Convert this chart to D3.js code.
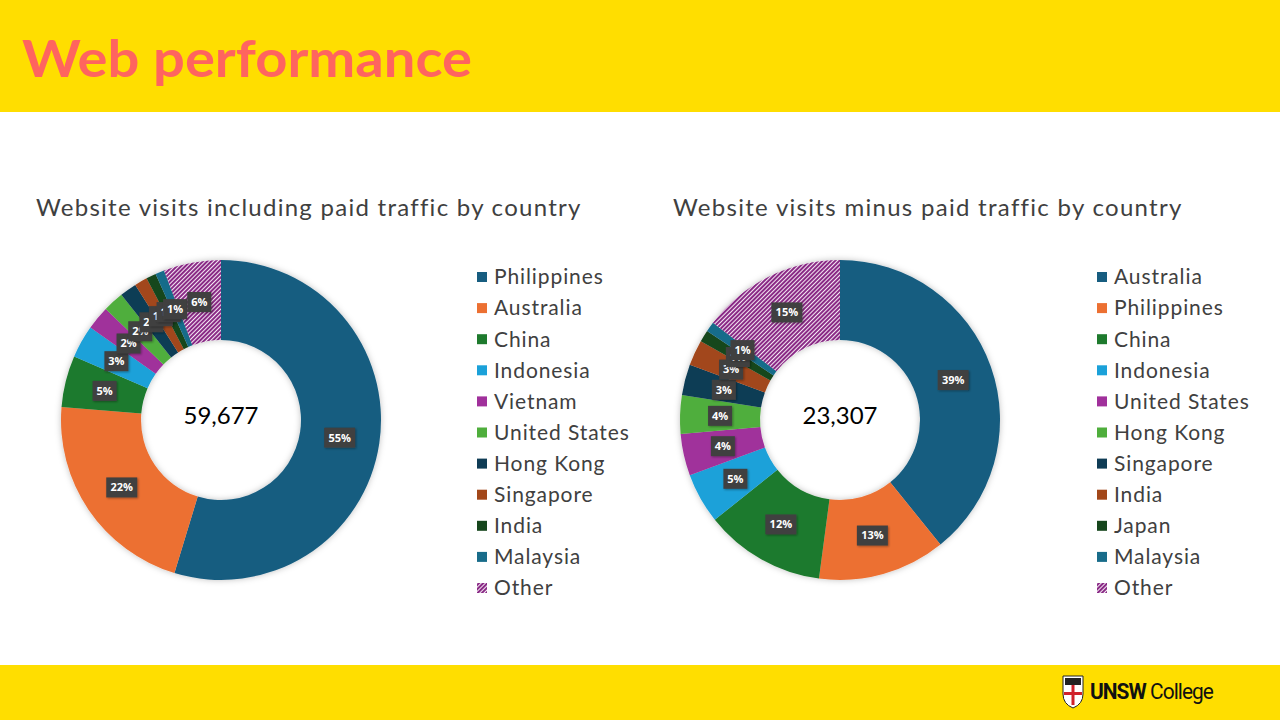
<!DOCTYPE html>
<html>
<head>
<meta charset="utf-8">
<script src="https://cdn.jsdelivr.net/npm/d3@7"></script>
<style>
  body { margin: 0; background: #fff; }
  svg { display: block; font-family: "Lato", "Open Sans", sans-serif; }
</style>
</head>
<body>
<div id="viz"></div>
<script>
// chart data (percent share of visits)
const paidCountries = ["Philippines", "Australia", "China", "Indonesia", "Vietnam", "United States",
    "Hong Kong", "Singapore", "India", "Malaysia", "Other"];
const paidShares = [54.7, 21.6, 5.2, 3.3, 2.4, 2.1, 1.7, 1.3, 1.0, 0.9, 5.8];
const paidTotal = 59677;

const organicCountries = ["Australia", "Philippines", "China", "Indonesia", "United States", "Hong Kong",
    "Singapore", "India", "Japan", "Malaysia", "Other"];
const organicShares = [39.2, 12.9, 12.2, 5.1, 4.2, 3.9, 3.1, 2.6, 1.2, 1.0, 14.6];
const organicTotal = 23307;

const palette = ["#175d80", "#ec7032", "#1e7a2d", "#1ba1d9", "#a0309b", "#4fae3c",
    "#0f3c55", "#a2471a", "#16461d", "#186c8a", "url(#hatch)"];

const W = 1280, H = 720;

const svg = d3.select("#viz").append("svg")
    .attr("width", W)
    .attr("height", H);

const defs = svg.append("defs");

// fine purple/white diagonal hatch for "Other"
const pat = defs.append("pattern")
    .attr("id", "hatch")
    .attr("patternUnits", "userSpaceOnUse")
    .attr("width", 3)
    .attr("height", 3)
    .attr("patternTransform", "rotate(45)");
pat.append("rect").attr("width", 3).attr("height", 3).attr("fill", "#f4e8f3");
pat.append("rect").attr("width", 2).attr("height", 3).attr("fill", "#8a2b86");

const shadow = defs.append("filter").attr("id", "shadow")
    .attr("x", "-20%").attr("y", "-20%").attr("width", "140%").attr("height", "140%");
shadow.append("feDropShadow")
    .attr("dx", 0).attr("dy", 0).attr("stdDeviation", 3)
    .attr("flood-color", "#000").attr("flood-opacity", 0.25);

const lblShadow = defs.append("filter").attr("id", "lblshadow")
    .attr("x", "-30%").attr("y", "-30%").attr("width", "160%").attr("height", "160%");
lblShadow.append("feDropShadow")
    .attr("dx", 1).attr("dy", 1).attr("stdDeviation", 1)
    .attr("flood-color", "#000").attr("flood-opacity", 0.35);

// header and footer bands
svg.append("rect").attr("x", 0).attr("y", 0).attr("width", W).attr("height", 112).attr("fill", "#ffde00");
svg.append("rect").attr("x", 0).attr("y", 665).attr("width", W).attr("height", 55).attr("fill", "#ffde00");

svg.append("text")
    .attr("x", 22)
    .attr("y", 77)
    .attr("fill", "#ff645f")
    .style("font-size", "52px")
    .style("font-weight", "700")
    .attr("textLength", 450)
    .attr("lengthAdjust", "spacingAndGlyphs")
    .text("Web performance");

function drawDonut(opts) {
    const g = svg.append("g");

    g.append("text")
        .attr("x", opts.titleX)
        .attr("y", 216)
        .attr("fill", "#404040")
        .style("font-size", "24px")
        .style("letter-spacing", "0.6px")
        .attr("textLength", opts.titleW)
        .attr("lengthAdjust", "spacing")
        .text(opts.title);

    const pie = d3.pie().sort(null).value(d => d.value);
    const arcs = pie(opts.countries.map((c, i) => ({ name: c, value: opts.shares[i], i })));
    const outerR = 160, innerR = 80;
    const arc = d3.arc().innerRadius(innerR).outerRadius(outerR);
    const labelArc = d3.arc().innerRadius(120).outerRadius(120);

    const chart = g.append("g").attr("transform", `translate(${opts.cx},${opts.cy})`);

    chart.append("g")
        .attr("filter", "url(#shadow)")
        .selectAll("path")
        .data(arcs)
        .enter()
        .append("path")
        .attr("d", arc)
        .attr("fill", d => palette[d.data.i]);

    // data labels: dark boxes, overlapping on the thin slices as in the slide
    const labels = chart.append("g")
        .selectAll("g")
        .data(arcs)
        .enter()
        .append("g")
        .attr("transform", d => `translate(${labelArc.centroid(d)})`);

    labels.each(function(d) {
        const txt = Math.round(d.data.value) + "%";
        const w = txt.length === 3 ? 31 : 24;
        const sel = d3.select(this);
        sel.append("rect")
            .attr("x", -w / 2)
            .attr("y", -10)
            .attr("width", w)
            .attr("height", 20)
            .attr("fill", "#404040")
            .attr("filter", "url(#lblshadow)");
        sel.append("text")
            .attr("text-anchor", "middle")
            .attr("dy", "0.35em")
            .attr("fill", "#fff")
            .style("font-size", "11px")
            .style("font-weight", "700")
            .style("font-family", "'Open Sans', sans-serif")
            .text(txt);
    });

    chart.append("text")
        .attr("text-anchor", "middle")
        .attr("y", -4)
        .attr("dy", "0.35em")
        .attr("fill", "#000")
        .style("font-size", "24px")
        .text(d3.format(",")(opts.total));

    // legend
    const y = d3.scalePoint()
        .domain(opts.countries)
        .range([277, 588]);

    const leg = g.append("g")
        .selectAll("g")
        .data(opts.countries)
        .enter()
        .append("g")
        .attr("transform", d => `translate(${opts.legendX},${y(d)})`);

    leg.append("rect")
        .attr("x", 0)
        .attr("y", -5)
        .attr("width", 10)
        .attr("height", 10)
        .attr("fill", (d, i) => palette[i]);

    leg.append("text")
        .attr("x", 17)
        .attr("dy", "0.35em")
        .attr("fill", "#404040")
        .style("font-size", "21px")
        .style("letter-spacing", "0.9px")
        .text(d => d);
}

drawDonut({
    title: "Website visits including paid traffic by country",
    titleX: 36, titleW: 545,
    countries: paidCountries, shares: paidShares, total: paidTotal,
    cx: 221, cy: 420, legendX: 477
});

drawDonut({
    title: "Website visits minus paid traffic by country",
    titleX: 673, titleW: 509,
    countries: organicCountries, shares: organicShares, total: organicTotal,
    cx: 840, cy: 420, legendX: 1097
});

// UNSW College logo (simplified shield + wordmark)
const logo = svg.append("g").attr("transform", "translate(1063,676)");
logo.append("path")
    .attr("d", "M0,0 H20 V18 Q20,28 10,32 Q0,28 0,18 Z")
    .attr("fill", "#fff")
    .attr("stroke", "#222")
    .attr("stroke-width", 1);
logo.append("rect").attr("x", 2).attr("y", 2).attr("width", 16).attr("height", 7).attr("fill", "#222");
logo.append("rect").attr("x", 8.5).attr("y", 9).attr("width", 3).attr("height", 20).attr("fill", "#d0202a");
logo.append("rect").attr("x", 1).attr("y", 16).attr("width", 18).attr("height", 3).attr("fill", "#d0202a");
logo.append("text")
    .attr("x", 27)
    .attr("y", 23)
    .attr("fill", "#111")
    .style("font-size", "22px")
    .style("font-family", "'Liberation Sans Narrow', 'Roboto', sans-serif")
    .style("letter-spacing", "-1px")
    .attr("textLength", 123)
    .attr("lengthAdjust", "spacingAndGlyphs")
    .html("<tspan font-weight='700'>UNSW</tspan> College");
</script>
</body>
</html>
